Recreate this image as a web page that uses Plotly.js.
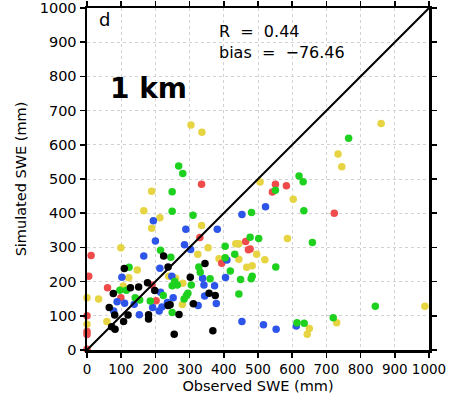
<!DOCTYPE html>
<html><head><meta charset="utf-8">
<script src="https://cdn.plot.ly/plotly-3.0.1.min.js"></script>
<style>html,body{margin:0;padding:0;background:#fff}#c{width:460px;height:401px}</style>
</head><body><div id="c"></div>
<script>
const redX=[335,551,583,542,723,477,330,12,464,472,394,5,190,60,99,202,0,0,0,0];
const redY=[485,485,480,462,400,295,329,276,317,293,254,216,190,182,153,144,100,54,45,2];
const greenX=[765,620,632,551,481,634,477,502,659,552,483,480,843,614,635,720,268,280,249,249,310,215,404,404,432,245,327,123,331,419,449,305,360,444,291,295,284,249,249,256,264,115,96,141,154,185,223];
const greenY=[619,509,492,467,402,407,330,326,314,243,216,208,128,80,78,94,538,516,463,406,394,292,303,270,280,271,243,242,227,231,206,190,208,164,159,166,149,110,188,200,190,175,175,153,146,143,159];
const yellowX=[304,336,860,734,745,506,603,586,496,520,483,988,650,644,730,189,166,213,189,335,99,354,435,444,324,386,444,467,147,259,280,279,106,122,0,34,58,0,239];
const yellowY=[658,637,662,573,536,491,441,326,280,264,246,128,63,46,80,464,407,387,356,364,299,299,311,311,280,267,265,242,234,210,195,133,187,211,153,149,83,75,216];
const blueX=[522,516,553,612,194,453,289,381,200,285,303,409,213,405,338,342,373,344,378,325,252,453,166,102,88,110,138,78,153,192,215,235,219,211,248];
const blueY=[419,74,61,70,378,396,353,353,319,308,294,263,239,212,210,190,188,158,136,130,153,83,275,213,141,137,134,114,103,124,169,139,126,114,216];
const blackX=[224,345,237,109,302,357,375,311,243,269,255,368,177,151,127,77,65,81,120,107,180,198,180,237,72,82];
const blackY=[275,253,243,238,213,166,159,135,132,104,46,56,197,184,182,165,124,102,102,83,103,174,91,130,68,61];
const lineX=[0,1000], lineY=[0,1000];
const tickVals=[0,100,200,300,400,500,600,700,800,900,1000];
const tickText=tickVals.map(String);

function sc(x,y,c){return {x:x,y:y,type:'scatter',mode:'markers',marker:{color:c,size:7.5,line:{width:0}},hoverinfo:'skip',cliponaxis:false};}
const data=[
 sc(yellowX,yellowY,'#e6d443'),
 sc(redX,redY,'#ef4b4b'),
 sc(blueX,blueY,'#2e55ea'),
 sc(greenX,greenY,'#1fd11f'),
 sc(blackX,blackY,'#000000'),
 {x:lineX,y:lineY,type:'scatter',mode:'lines',line:{color:'#000',width:2},hoverinfo:'skip'}
];
const FAM='DejaVu Sans, Verdana, sans-serif';
const ttl={family:FAM,size:14.5,color:'#000'};
const ax={range:[0,1000],tickvals:tickVals,ticktext:tickText,tickangle:0,showgrid:true,gridcolor:'#d2d2d2',griddash:'dot',gridwidth:1,ticklabeloverflow:'allow',
 zeroline:false,showline:true,linecolor:'#000',linewidth:2.5,mirror:'ticks',ticks:'outside',ticklen:5,tickwidth:1.5,tickcolor:'#000',fixedrange:true};
const layout={width:460,height:401,margin:{l:87,r:31,t:8,b:51},showlegend:false,plot_bgcolor:'#fff',paper_bgcolor:'#fff',
 xaxis:Object.assign({},ax,{tickfont:{family:FAM,size:13.5,color:'#000'},title:{text:'Observed SWE (mm)',font:ttl,standoff:5}}),
 yaxis:Object.assign({},ax,{tickfont:{family:FAM,size:14.5,color:'#000'},title:{text:'Simulated SWE (mm)',font:ttl,standoff:10}}),
 annotations:[
  {xref:'paper',yref:'paper',x:0.03,y:0.965,xanchor:'left',yanchor:'middle',text:'d',showarrow:false,font:{family:FAM,size:18,color:'#000'}},
  {xref:'paper',yref:'paper',x:0.381,y:0.930,xanchor:'left',yanchor:'middle',text:'R  =  0.44',showarrow:false,font:{family:FAM,size:16,color:'#000'}},
  {xref:'paper',yref:'paper',x:0.381,y:0.871,xanchor:'left',yanchor:'middle',text:'bias  =  \u221276.46',showarrow:false,font:{family:FAM,size:16,color:'#000'}},
  {xref:'paper',yref:'paper',x:0.062,y:0.766,xanchor:'left',yanchor:'middle',text:'<b>1 km</b>',showarrow:false,font:{family:FAM,size:28,color:'#000'}}
 ]};
Plotly.newPlot('c',data,layout,{staticPlot:true,displayModeBar:false});
</script></body></html>
